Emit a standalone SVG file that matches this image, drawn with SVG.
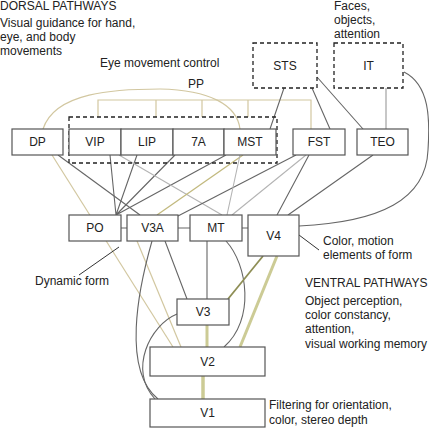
<svg xmlns="http://www.w3.org/2000/svg" width="429" height="428" viewBox="0 0 429 428">
<style>
text{font-family:"Liberation Sans",Arial,sans-serif;font-size:12px;fill:#222}
.n rect{fill:#fff;stroke:#555;stroke-width:1.2}
.n text{text-anchor:middle}
.dash{fill:none;stroke:#222;stroke-width:1.3;stroke-dasharray:4,3}
.dk{stroke:#666;stroke-width:1.1;fill:none}
.lg{stroke:#b4b4b4;stroke-width:1.1;fill:none}
.tan{stroke:#d2c7a0;stroke-width:1.2;fill:none}
.tol{stroke:#c2b97e;stroke-width:1.3;fill:none}
.ol{stroke:#cccb95;stroke-width:3;fill:none}
.dol{stroke:#8e8e55;stroke-width:1.8;fill:none}
.ld{stroke:#333;stroke-width:1;fill:none}
</style>
<g id="labels">
<text x="0" y="10">DORSAL PATHWAYS</text>
<text x="0" y="27">Visual guidance for hand,</text>
<text x="0" y="41">eye, and body</text>
<text x="0" y="55">movements</text>
<text x="100" y="67">Eye movement control</text>
<text x="188" y="88">PP</text>
<text x="334" y="10">Faces,</text>
<text x="334" y="24">objects,</text>
<text x="334" y="38">attention</text>
<text x="323" y="245">Color, motion</text>
<text x="323" y="259">elements of form</text>
<text x="35" y="285">Dynamic form</text>
<text x="305" y="287">VENTRAL PATHWAYS</text>
<text x="305" y="305">Object perception,</text>
<text x="305" y="319">color constancy,</text>
<text x="305" y="333">attention,</text>
<text x="305" y="348">visual working memory</text>
<text x="269" y="409">Filtering for orientation,</text>
<text x="269" y="424">color, stereo depth</text>
</g>
<g id="connectors">
<path class="tan" d="M43,129 C55,92 115,89 160,89 C210,90 237,105 240,129"/>
<path class="tan" d="M98,117 V100 H311 V129 M156,100 V117 M202,100 V117 M248,100 V117"/>
<path class="dk" d="M284,88 L270,129 M312,88 L330,129 M317,77 L363,129"/>
<path class="lg" d="M386,88 V129" style="stroke:#999"/>
<path class="dk" d="M404,72 C430,85 430,120 428,150 C426,200 380,222 299,226"/>
<path class="dk" d="M58,155 L140,215"/>
<path class="tan" d="M52,155 L173,347"/>
<path class="dk" d="M110,155 L116,215 M137,155 L116,215 M175,155 L116,215 M226,155 L116,215"/>
<path class="lg" d="M119,155 L222,215"/>
<path class="tol" d="M243,155 L157,215"/>
<path class="dk" d="M296,155 L178,216"/>
<path class="lg" d="M240,155 L227,215 M306,155 L232,215"/>
<path class="dk" d="M309,155 L277,215 M373,155 L288,215"/>
<path class="dk" d="M121,228 H127 M178,228 H190 M242,228 H248"/>
<path class="tan" d="M137,241 L181,347"/>
<path class="dk" d="M152,241 C138,290 122,370 158,399"/>
<path class="dk" d="M177,314 C150,325 128,370 155,399"/>
<path class="dk" d="M165,241 L187,299 M207,241 V299"/>
<path class="dk" d="M226,241 C248,265 255,320 224,347"/>
<path class="dol" d="M263,256 L228,299"/>
<path class="ol" d="M277,256 L240,347"/>
<path class="ol" d="M207,325 V347"/>
<path class="ol" d="M203,376 V399" style="stroke-width:3.5"/>
<path class="ld" d="M79,275 L119,247 M295,232 L319,250"/>
</g>
<rect class="dash" x="69" y="117" width="208" height="46"/>
<rect class="dash" x="253" y="43" width="64" height="45"/>
<rect class="dash" x="334" y="43" width="69" height="45"/>
<g id="STS"><text x="285" y="70" style="text-anchor:middle">STS</text></g>
<g id="IT"><text x="368.5" y="70" style="text-anchor:middle">IT</text></g>
<g id="DP" class="n"><rect x="12" y="129" width="51" height="26"/><text x="37.5" y="146">DP</text></g>
<g id="VIP" class="n"><rect x="69" y="129" width="52" height="26"/><text x="95" y="146">VIP</text></g>
<g id="LIP" class="n"><rect x="121" y="129" width="52" height="26"/><text x="147" y="146">LIP</text></g>
<g id="7A" class="n"><rect x="173" y="129" width="51" height="26"/><text x="198.5" y="146">7A</text></g>
<g id="MST" class="n"><rect x="224" y="129" width="52" height="26"/><text x="250" y="146">MST</text></g>
<g id="FST" class="n"><rect x="293" y="129" width="52" height="26"/><text x="319" y="146">FST</text></g>
<g id="TEO" class="n"><rect x="357" y="129" width="51" height="26"/><text x="382.5" y="146">TEO</text></g>
<g id="PO" class="n"><rect x="69" y="215" width="52" height="26"/><text x="95" y="232">PO</text></g>
<g id="V3A" class="n"><rect x="127" y="215" width="51" height="26"/><text x="152.5" y="232">V3A</text></g>
<g id="MT" class="n"><rect x="190" y="215" width="52" height="26"/><text x="216" y="232">MT</text></g>
<g id="V4" class="n"><rect x="248" y="215" width="51" height="41"/><text x="273.5" y="240">V4</text></g>
<g id="V3" class="n"><rect x="177" y="299" width="52" height="26"/><text x="203" y="316">V3</text></g>
<g id="V2" class="n"><rect x="150" y="347" width="115" height="29"/><text x="207.5" y="366">V2</text></g>
<g id="V1" class="n"><rect x="150" y="399" width="115" height="28"/><text x="207.5" y="417">V1</text></g>
</svg>
